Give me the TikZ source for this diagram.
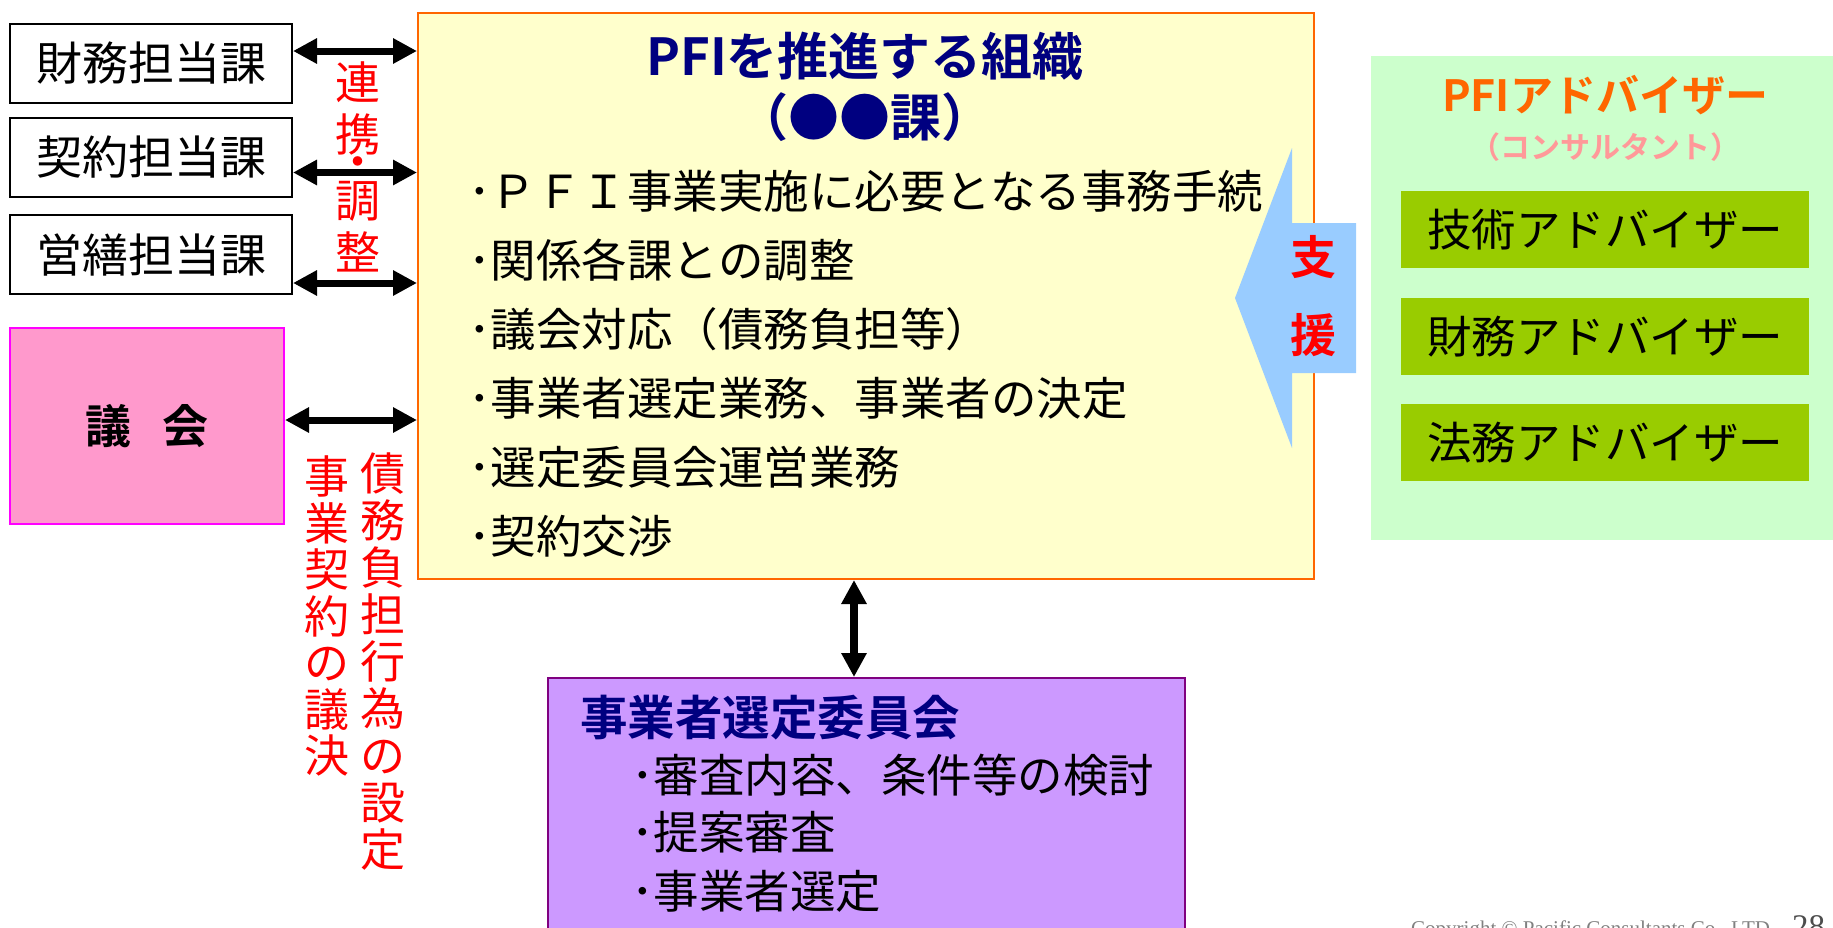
\documentclass[tikz,border=0pt]{standalone}
\usepackage{fontspec}
\setmainfont{Noto Sans CJK JP}[BoldFont={Noto Sans CJK JP Bold}]
\newfontfamily\serifcopy{Liberation Serif}
\usetikzlibrary{arrows.meta}
\definecolor{mainfill}{HTML}{FFFFCC}
\definecolor{mainline}{HTML}{FF6600}
\definecolor{navytext}{HTML}{000080}
\definecolor{pinkfill}{HTML}{FF99CC}
\definecolor{magentaline}{HTML}{FF00FF}
\definecolor{bluearrow}{HTML}{99CCFF}
\definecolor{greenbg}{HTML}{CCFFCC}
\definecolor{greenbox}{HTML}{99CC00}
\definecolor{advorange}{HTML}{FF6600}
\definecolor{consultpink}{HTML}{FF9999}
\definecolor{purplefill}{HTML}{CC99FF}
\definecolor{purpleline}{HTML}{800080}
\definecolor{copygray}{HTML}{808080}
\begin{document}
\begin{tikzpicture}[x=1pt,y=-1pt,
  deptbox/.style={draw=black, line width=2pt, fill=white, inner sep=0pt,
    minimum width=282pt, minimum height=79pt, font=\fontsize{46}{50}\selectfont},
  dbl/.style={{Triangle[length=24pt,width=24pt]}-{Triangle[length=24pt,width=24pt]}, line width=7pt},
  redchar/.style={text=red, inner sep=0pt, font=\fontsize{45}{46.5}\selectfont},
  redv/.style={text=red, inner sep=0pt, align=center, font=\fontsize{45}{46.5}\selectfont},
  redv2/.style={text=red, inner sep=0pt, align=center, font=\fontsize{45}{47}\selectfont},
  body/.style={inner sep=0pt, anchor=west, font=\fontsize{45.5}{50}\selectfont},
  titletext/.style={inner sep=0pt, text=navytext, font=\bfseries\fontsize{51}{56}\selectfont},
  advbox/.style={fill=greenbox, inner sep=0pt, minimum width=408pt, minimum height=77pt,
    font=\fontsize{44.5}{48}\selectfont},
  supportchar/.style={text=red, inner sep=0pt, font=\bfseries\fontsize{46}{50}\selectfont}
]
\useasboundingbox (0,0) rectangle (1833,927);
\clip (0,0) rectangle (1833,927);

% left department boxes
\node[deptbox, anchor=north west] (zaimu) at (9,23) {財務担当課};
\node[deptbox, anchor=north west] (keiyaku) at (9,117) {契約担当課};
\node[deptbox, anchor=north west] (eizen) at (9,214) {営繕担当課};

% assembly box
\node[fill=pinkfill, draw=magentaline, line width=2pt, inner sep=0pt,
  minimum width=274pt, minimum height=196pt, anchor=north west,
  font=\bfseries\fontsize{46}{50}\selectfont] (gikai) at (9,327) {議\hspace{32pt}会};

% main organisation box
\node[fill=mainfill, draw=mainline, line width=2pt, inner sep=0pt,
  minimum width=896pt, minimum height=566pt, anchor=north west] (main) at (417,12) {};
\node[titletext] (title) at (865,56) {PFIを推進する組織};
\node[titletext] (title2) at (865,117) {（●●課）};
\node[body] (l1) at (468,191) {･ＰＦＩ事業実施に必要となる事務手続};
\node[body] (l2) at (468,260) {･関係各課との調整};
\node[body] (l3) at (468,329) {･議会対応（債務負担等）};
\node[body] (l4) at (468,398) {･事業者選定業務、事業者の決定};
\node[body] (l5) at (468,467) {･選定委員会運営業務};
\node[body] (l6) at (468,536) {･契約交渉};

% red vertical labels
\node[redchar] (r1) at (358,82) {連};
\node[redchar] (r2) at (358,134) {携};
\node[redchar] (r3) at (358,168) {・};
\node[redchar] (r4) at (358,201) {調};
\node[redchar] (r5) at (358,252) {整};
\node[redv] (gikets) at (327,616) {事\\業\\契\\約\\の\\議\\決};
\node[redv2] (saimu) at (383,662) {債\\務\\負\\担\\行\\為\\の\\設\\定};

% arrows between departments and main box
\draw[dbl] ([yshift=12.5pt]zaimu.east) -- ([yshift=12.5pt]zaimu.east -| main.west);
\draw[dbl] ([yshift=-15pt]keiyaku.east) -- ([yshift=-15pt]keiyaku.east -| main.west);
\draw[dbl] ([yshift=-28.5pt]eizen.east) -- ([yshift=-28.5pt]eizen.east -| main.west);
\draw[dbl] ([yshift=6pt]gikai.east) -- ([yshift=6pt]gikai.east -| main.west);

% advisers
\node[fill=greenbg, inner sep=0pt, minimum width=470pt, minimum height=484pt,
  anchor=north west] (advbg) at (1371,56) {};
\node[inner sep=0pt, text=advorange, font=\bfseries\fontsize{43}{46}\selectfont] (advt) at (1605,95) {PFIアドバイザー};
\node[inner sep=0pt, text=consultpink, font=\bfseries\fontsize{30}{33}\selectfont] (advs) at (1605,147) {（コンサルタント）};
\node[advbox] (a1) at (1605,229.5) {技術アドバイザー};
\node[advbox] (a2) at (1605,336.5) {財務アドバイザー};
\node[advbox] (a3) at (1605,442.5) {法務アドバイザー};

% support arrow
\fill[bluearrow] (1235,298) -- (1292,148) -- (1292,223) -- (1356,223) -- (1356,373)
  -- (1292,373) -- (1292,448) -- cycle;
\node[supportchar] (s1) at (1313,257) {支};
\node[supportchar] (s2) at (1313,335) {援};

% selection committee
\node[fill=purplefill, draw=purpleline, line width=2pt, inner sep=0pt,
  minimum width=637pt, minimum height=280pt, anchor=north west] (comm) at (547,677) {};
\node[inner sep=0pt, anchor=west, text=navytext, font=\bfseries\fontsize{47.5}{52}\selectfont] (ct) at (580,718) {事業者選定委員会};
\node[body] (c1) at (631,775) {･審査内容、条件等の検討};
\node[body] (c2) at (631,832) {･提案審査};
\node[body] (c3) at (631,891) {･事業者選定};

\draw[dbl, line width=8pt] ([xshift=-12pt]main.south) -- ([xshift=-12pt]main.south |- comm.north);

% footer
\node[inner sep=0pt, anchor=base west, text=copygray, font=\serifcopy\fontsize{21}{24}\selectfont] (copy) at (1411,935) {Copyright © Pacific Consultants Co., LTD.};
\node[inner sep=0pt, anchor=base west, text=copygray!60!black, font=\serifcopy\fontsize{33}{36}\selectfont] (page) at (1792,937) {28};
\end{tikzpicture}
\end{document}
